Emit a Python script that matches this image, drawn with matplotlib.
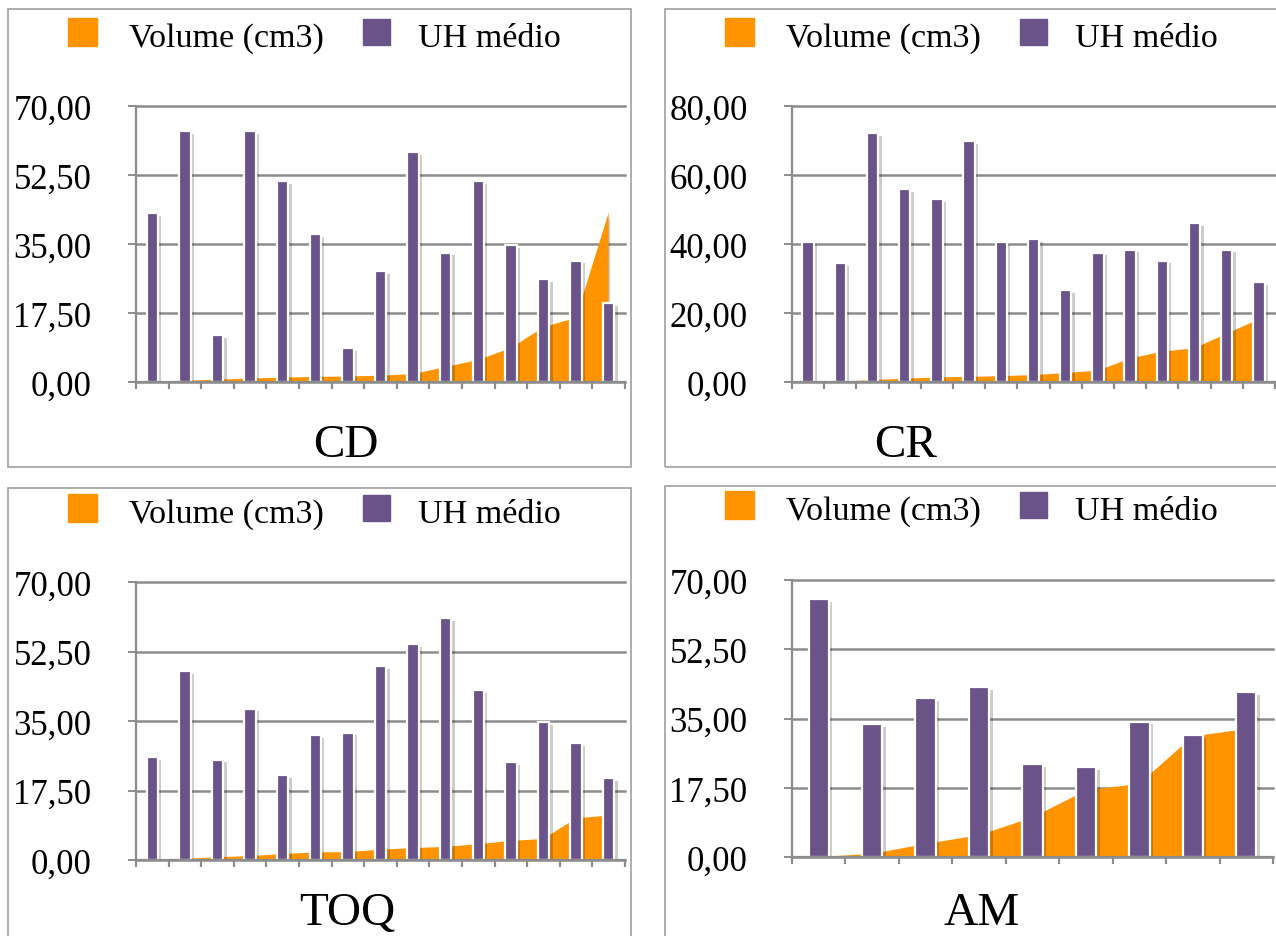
import matplotlib
matplotlib.use("Agg")
import matplotlib.pyplot as plt
import matplotlib.patheffects as pe
from matplotlib.patches import Rectangle
import numpy as np

plt.rcParams["font.family"] = ["Liberation Serif", "DejaVu Serif"]

# dados
legend_labels = ["Volume (cm3)", "UH médio"]
titles = ["CD", "CR", "TOQ", "AM"]

cd_uh = [42.9, 63.7, 11.9, 63.7, 50.9, 37.5, 8.6, 28.1, 58.4, 32.8, 51.0, 34.8, 26.1, 30.8, 20.1]
cd_vol = [0.0, 0.3, 0.6, 0.9, 1.1, 1.3, 1.4, 1.6, 2.0, 3.8, 5.6, 8.6, 13.9, 16.3, 43.0]

cr_uh = [40.7, 34.4, 72.2, 56.0, 52.9, 69.9, 40.6, 41.4, 26.7, 37.5, 38.4, 35.2, 46.0, 38.4, 29.0]
cr_vol = [0.0, 0.2, 0.5, 1.0, 1.3, 1.5, 1.7, 2.0, 2.6, 3.3, 6.8, 8.8, 9.8, 14.0, 18.2]

toq_uh = [26.0, 47.5, 25.3, 38.1, 21.3, 31.4, 32.1, 48.9, 54.3, 61.0, 42.8, 24.7, 34.7, 29.4, 20.6]
toq_vol = [0.0, 0.3, 0.7, 1.0, 1.5, 1.9, 2.0, 2.6, 3.0, 3.3, 4.0, 4.8, 5.3, 10.5, 11.2]

am_uh = [65.2, 33.5, 40.2, 42.9, 23.4, 22.7, 34.2, 30.8, 41.6]
am_vol = [0.0, 0.8, 3.3, 5.5, 10.0, 16.8, 18.5, 30.5, 32.3]

ticks_70 = [0, 17.5, 35, 52.5, 70]
ticks_80 = [0, 20, 40, 60, 80]

ORANGE = "#ff9400"
PURPLE = "#6a5389"
GREY = "#8c8c8c"

W, H = 1276, 937
fig = plt.figure(figsize=(W / 100, H / 100), dpi=100)


def fx(x):
    return x / W


def fy(y):
    return 1 - y / H


def painel(uh, vol, ticks, title, box, axis, leg_y, title_xy, bar_w):
    # moldura do painel
    bx0, by0, bx1, by1 = box
    fig.patches.append(Rectangle((fx(bx0), fy(by1)), fx(bx1 - bx0), (by1 - by0) / H,
                                 transform=fig.transFigure, fill=False,
                                 edgecolor="#a0a0a0", lw=1.2))

    # legenda
    fig.patches.append(Rectangle((fx(68 + bx0 - 8), fy(leg_y)), fx(29), 28 / H,
                                 transform=fig.transFigure, color=ORANGE))
    fig.text(fx(129 + bx0 - 8), fy(leg_y), legend_labels[0], fontsize=24.5, va="baseline")
    fig.patches.append(Rectangle((fx(363 + bx0 - 8), fy(leg_y - 1)), fx(27), 26 / H,
                                 transform=fig.transFigure, color=PURPLE))
    fig.text(fx(418 + bx0 - 8), fy(leg_y), legend_labels[1], fontsize=24.5, va="baseline")

    # eixos
    ax0, ax1, ay_top, ay_bot = axis
    ax = fig.add_axes([fx(ax0), fy(ay_bot), fx(ax1 - ax0), (ay_bot - ay_top) / H])
    n = len(uh)
    x = np.arange(n)

    for t in ticks:
        ax.axhline(t, color=GREY, lw=1.8, zorder=0.5, clip_on=False)

    ax.fill_between(x, 0, vol, color=ORANGE, lw=0, zorder=1,
                    path_effects=[pe.SimplePatchShadow(offset=(1, -3), shadow_rgbFace="black",
                                                       alpha=0.18), pe.Normal()])
    ax.bar(x, uh, width=bar_w, color=PURPLE, edgecolor="white", lw=1.6, zorder=2,
           path_effects=[pe.SimplePatchShadow(offset=(2.5, -2), shadow_rgbFace="black",
                                              alpha=0.2), pe.Normal()])

    ax.set_xlim(-0.5, n - 0.5)
    ax.set_ylim(ticks[0], ticks[-1])
    ax.set_yticks(ticks)
    ax.set_yticklabels([f"{t:.2f}".replace(".", ",") for t in ticks])
    ax.set_xticks(np.arange(n + 1) - 0.5)
    ax.tick_params(axis="y", length=6, width=1.4, color=GREY, pad=26, labelsize=25)
    ax.tick_params(axis="x", length=5, width=1.6, color=GREY, labelbottom=False)
    for s in ["top", "right"]:
        ax.spines[s].set_visible(False)
    for s in ["left", "bottom"]:
        ax.spines[s].set_color(GREY)
        ax.spines[s].set_linewidth(1.6)
    ax.patch.set_alpha(0)

    fig.text(fx(title_xy[0]), fy(title_xy[1]), title, fontsize=34, ha="center", va="baseline")
    return ax


painel(cd_uh, cd_vol, ticks_70, titles[0], (8, 10, 631, 468), (136, 625, 107, 383), 47, (346, 457), 0.35)
painel(cr_uh, cr_vol, ticks_80, titles[1], (665, 10, 1300, 468), (792, 1275, 107, 383), 47, (906, 457), 0.35)
painel(toq_uh, toq_vol, ticks_70, titles[2], (8, 489, 631, 960), (136, 625, 583, 861), 523, (347, 925), 0.35)
painel(am_uh, am_vol, ticks_70, titles[3], (665, 487, 1300, 960), (792, 1273, 581, 858), 520, (982, 925), 0.38)

fig.savefig("out.png", dpi=100)
